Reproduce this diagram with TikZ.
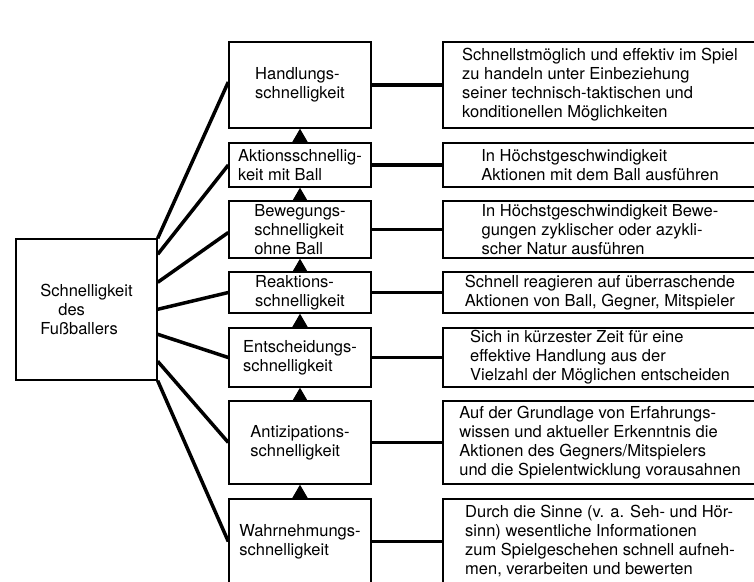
\documentclass[tikz,border=0pt]{standalone}
\usepackage{fontspec}
\setmainfont{TeX Gyre Heros}
\usetikzlibrary{arrows.meta}

\begin{document}
\begin{tikzpicture}[x=1pt,y=-1pt,
  midbox/.style={draw,line width=1.4pt,minimum width=142pt,align=left,inner sep=2pt,font=\fontsize{16.5}{19}\selectfont},
  descbox/.style={draw,line width=1.4pt,minimum width=314pt,align=left,inner sep=2pt,font=\fontsize{16.5}{19}\selectfont},
  link/.style={line width=3.5pt},
  uparrow/.style={line width=1pt,-{Triangle[width=16pt,length=14pt]}}]
\useasboundingbox (0,0) rectangle (754,581);
\clip (0,0) rectangle (754,581);
% root
\node[draw,line width=1.4pt,minimum width=141pt,minimum height=141pt,align=left,inner sep=2pt,font=\fontsize{16.5}{19}\selectfont] (fb) at (86.5,309.5) {Schnelligkeit\\\hspace*{18pt}des\\Fußballers};
% kinds of speed
\node[midbox,minimum height=86pt] (handl) at (300,85) {Handlungs-\\schnelligkeit};
\node[midbox,minimum height=44pt] (aktion) at (300,165) {Aktionsschnellig-\\keit mit Ball};
\node[midbox,minimum height=57pt] (beweg) at (300,229.5) {Bewegungs-\\schnelligkeit\\ohne Ball};
\node[midbox,minimum height=41pt] (reakt) at (300,292.5) {Reaktions-\\schnelligkeit};
\node[midbox,minimum height=59pt] (entsch) at (300,357.5) {Entscheidungs-\\schnelligkeit};
\node[midbox,minimum height=83pt] (antiz) at (300,442.5) {Antizipations-\\schnelligkeit};
\node[midbox,minimum height=85pt] (wahrn) at (300,541.5) {Wahrnehmungs-\\schnelligkeit};
% descriptions
\node[descbox,minimum height=86pt] (handl_d) at (600,85) {Schnellstmöglich und effektiv im Spiel\\zu handeln unter Einbeziehung\\seiner technisch-taktischen und\\konditionellen Möglichkeiten};
\node[descbox,minimum height=44pt] (aktion_d) at (600,165) {In Höchstgeschwindigkeit\\Aktionen mit dem Ball ausführen};
\node[descbox,minimum height=57pt] (beweg_d) at (600,229.5) {In Höchstgeschwindigkeit Bewe-\\gungen zyklischer oder azykli-\\scher Natur ausführen};
\node[descbox,minimum height=41pt] (reakt_d) at (600,292.5) {Schnell reagieren auf überraschende\\Aktionen von Ball, Gegner, Mitspieler};
\node[descbox,minimum height=59pt] (entsch_d) at (600,357.5) {Sich in kürzester Zeit für eine\\effektive Handlung aus der\\Vielzahl der Möglichen entscheiden};
\node[descbox,minimum height=83pt] (antiz_d) at (600,442.5) {Auf der Grundlage von Erfahrungs-\\wissen und aktueller Erkenntnis die\\Aktionen des Gegners/Mitspielers\\und die Spielentwicklung vorausahnen};
\node[descbox,minimum height=85pt] (wahrn_d) at (600,541.5) {Durch die Sinne (v. a. Seh- und Hör-\\sinn) wesentliche Informationen\\zum Spielgeschehen schnell aufneh-\\men, verarbeiten und bewerten};
% fan from the root
\draw[link] (fb.north east) -- ([yshift=3pt]handl.west);
\draw[link] ([yshift=-16pt]fb.north east) -- (aktion.west);
\draw[link] ([yshift=-44pt]fb.north east) -- ([yshift=-3pt]beweg.west);
\draw[link] ([yshift=-71pt]fb.north east) -- (reakt.west);
\draw[link] ([yshift=-96pt]fb.north east) -- (entsch.west);
\draw[link] ([yshift=-123pt]fb.north east) -- (antiz.west);
\draw[link] (fb.south east) -- (wahrn.west);
% to the descriptions
\foreach \k in {handl,aktion,beweg,reakt,entsch,antiz,wahrn}
  \draw[link] (\k.east) -- (\k_d.west);
% build-up from below
\draw[uparrow] (aktion.north) -- (handl.south);
\draw[uparrow] (beweg.north) -- (aktion.south);
\draw[uparrow] (reakt.north) -- (beweg.south);
\draw[uparrow] (entsch.north) -- (reakt.south);
\draw[uparrow] (antiz.north) -- (entsch.south);
\draw[uparrow] (wahrn.north) -- (antiz.south);
\end{tikzpicture}
\end{document}
